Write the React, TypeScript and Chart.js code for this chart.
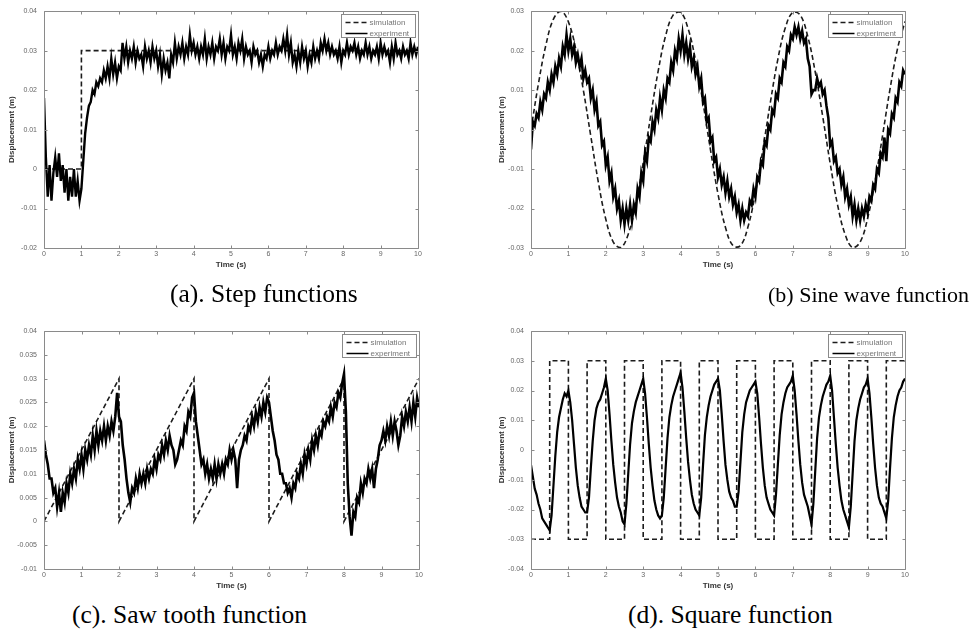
import React, { useEffect, useRef } from 'react';
import { Chart, registerables } from 'chart.js';

Chart.register(...registerables);

// ---------- data (displacement values in mm; axis labels shown in m) ----------
const EXP_DT = 0.05; // sampling step (s) of the experiment series

const timeTickLabels = ['0', '1', '2', '3', '4', '5', '6', '7', '8', '9', '10'];

const yLabelsA = ['-0.02', '-0.01', '0', '0.01', '0.02', '0.03', '0.04'];
const yLabelsB = ['-0.03', '-0.02', '-0.01', '0', '0.01', '0.02', '0.03'];
const yLabelsC = ['-0.01', '-0.005', '0', '0.005', '0.01', '0.015', '0.02', '0.025', '0.03', '0.035', '0.04'];
const yLabelsD = ['-0.04', '-0.03', '-0.02', '-0.01', '0', '0.01', '0.02', '0.03', '0.04'];

// (a) step
const simStepT = [0, 1, 1, 10];
const simStepY = [0, 0, 30, 30];
const expStep = [
  18, 3, -7, 1, -8, -1, 3, -2, 4, -3, 1, -6, 0, -8, -2, -7, 0, -7, -3, -8,
  -5, 2, 9, 13, 16, 17, 20, 19, 22, 21, 23, 22, 25, 23, 26, 23, 28, 24, 27, 23,
  26, 25, 32, 28, 31, 27, 30, 28, 31, 27, 30, 28, 29, 26, 31, 28, 30, 27, 31, 28,
  30, 26, 29, 24, 28, 25, 27, 23, 29, 27, 32, 28, 31, 29, 32, 28, 31, 29, 34, 30,
  32, 29, 31, 28, 31, 29, 33, 28, 31, 29, 32, 28, 31, 30, 33, 29, 32, 28, 31, 30,
  34, 29, 31, 28, 32, 30, 33, 28, 31, 29, 30, 27, 31, 29, 30, 27, 29, 26, 29, 28,
  31, 28, 30, 29, 32, 29, 31, 30, 33, 30, 34, 29, 32, 27, 29, 26, 30, 27, 31, 28,
  30, 26, 29, 27, 31, 28, 30, 28, 32, 30, 33, 30, 32, 29, 31, 29, 30, 28, 31, 27,
  30, 29, 32, 29, 31, 30, 32, 29, 31, 28, 30, 29, 32, 29, 31, 28, 30, 29, 31, 28,
  32, 29, 31, 29, 30, 27, 31, 28, 32, 29, 30, 28, 31, 29, 30, 28, 32, 29, 31, 29,
  31,
];

// (b) sine
const simSineDT = 0.2;
const simSineY = [
  0, 11.7, 21.5, 28.0, 30.0, 27.3, 20.3, 10.0, -1.7, -13.3, -22.7,
  -28.5, -29.9, -26.5, -18.9, -8.4, 3.5, 14.8, 23.8, 29.0, 29.7,
  25.6, 17.5, 6.7, -5.2, -16.3, -24.8, -29.4, -29.4, -24.7, -16.1,
  -5.0, 6.9, 17.8, 25.8, 29.7, 29.0, 23.6, 14.6, 3.3, -8.6,
  -19.2, -26.6, -29.9, -28.5, -22.5, -13.1, -1.5, 10.3, 20.5, 27.4,
];
const expSine = [
  -5, 2, 1, 4, 3, 7, 5, 9, 8, 12, 10, 14, 12, 16, 14, 18, 16, 21, 19, 24,
  20, 23, 19, 21, 17, 19, 16, 18, 13, 15, 12, 13, 8, 10, 5, 7, 1, 2, -4, -3,
  -9, -7, -13, -11, -17, -15, -20, -18, -23, -20, -24, -20, -23, -19, -23, -19, -21, -15, -17, -11,
  -13, -6, -8, -2, -3, 2, 0, 5, 3, 8, 5, 10, 8, 13, 12, 17, 15, 20, 18, 23,
  20, 24, 19, 22, 18, 21, 16, 18, 14, 16, 11, 13, 7, 8, 2, 3, -3, -2, -8, -7,
  -12, -10, -14, -12, -16, -13, -17, -15, -19, -17, -21, -19, -23, -20, -23, -21, -22, -18, -19, -15,
  -17, -12, -13, -8, -9, -3, -4, 1, 0, 5, 4, 9, 8, 13, 12, 17, 16, 21, 20, 24,
  23, 26, 24, 26, 23, 25, 22, 23, 18, 16, 9, 10, 10, 13, 11, 12, 9, 10, 6, 3,
  -4, -3, -8, -7, -11, -10, -14, -12, -17, -15, -19, -17, -22, -19, -23, -20, -23, -20, -22, -19,
  -21, -17, -18, -14, -15, -10, -11, -6, -7, -2, -8, 0, -1, 4, 3, 8, 7, 12, 11, 15,
  14,
];

// (c) saw tooth
const simSawT = [0, 2, 2, 4, 4, 6, 6, 8, 8, 10];
const simSawY = [0, 30, 0, 30, 0, 30, 0, 30, 0, 30];
const expSaw = [
  17, 14, 12, 9, 9, 6, 7, 3, 6, 2, 6, 4, 8, 6, 10, 8, 11, 9, 13, 11,
  14, 11, 15, 13, 16, 14, 18, 15, 19, 16, 19, 17, 20, 17, 20, 18, 21, 19, 22, 27,
  22, 21, 16, 13, 9, 6, 4, 7, 6, 9, 7, 10, 8, 10, 8, 11, 9, 11, 10, 13,
  11, 14, 13, 16, 14, 17, 15, 18, 16, 15, 12, 13, 15, 17, 16, 20, 19, 23, 22, 26,
  27, 21, 18, 15, 12, 13, 10, 12, 9, 11, 9, 12, 9, 12, 10, 12, 10, 13, 12, 15,
  13, 15, 13, 7, 13, 15, 16, 18, 17, 20, 19, 22, 20, 23, 21, 24, 22, 25, 23, 26,
  25, 22, 19, 17, 14, 13, 10, 10, 8, 8, 6, 7, 5, 8, 7, 10, 9, 12, 10, 14,
  12, 15, 13, 17, 15, 18, 16, 19, 18, 21, 20, 22, 21, 24, 22, 25, 24, 27, 26, 29,
  31, 23, 8, 1, -3, 2, 1, 5, 4, 8, 6, 9, 8, 11, 9, 11, 7, 11, 13, 16,
  17, 19, 17, 20, 18, 21, 18, 21, 19, 16, 18, 22, 20, 23, 21, 24, 21, 25, 22, 26,
  24,
];

// (d) square
const simSqT = [
  0, 0.5, 0.5, 1, 1, 1.5, 1.5, 2, 2, 2.5, 2.5, 3, 3, 3.5, 3.5, 4, 4, 4.5, 4.5, 5,
  5, 5.5, 5.5, 6, 6, 6.5, 6.5, 7, 7, 7.5, 7.5, 8, 8, 8.5, 8.5, 9, 9, 9.5, 9.5, 10,
];
const simSqY = [
  -30, -30, 30, 30, -30, -30, 30, 30, -30, -30, 30, 30, -30, -30, 30, 30, -30, -30, 30, 30,
  -30, -30, 30, 30, -30, -30, 30, 30, -30, -30, 30, 30, -30, -30, 30, 30, -30, -30, 30, 30,
];
const expSq = [
  -5, -9, -13, -15, -18, -20, -23, -24, -25, -26, -27, -22, -12, -2, 6, 11, 14, 17, 19, 18,
  20, 16, 10, 2, -6, -12, -16, -19, -20, -21, -21, -16, -6, 3, 10, 14, 16, 17, 19, 21,
  24, 20, 12, 3, -5, -11, -16, -19, -21, -24, -25, -18, -8, 2, 9, 13, 16, 18, 20, 22,
  24, 19, 11, 2, -6, -12, -17, -20, -22, -23, -22, -16, -6, 4, 11, 15, 18, 20, 22, 24,
  26, 21, 13, 4, -4, -10, -15, -18, -20, -21, -22, -16, -5, 5, 11, 15, 18, 20, 22, 23,
  24, 20, 12, 3, -5, -10, -14, -16, -17, -19, -19, -14, -4, 6, 12, 16, 18, 20, 21, 22,
  23, 19, 11, 2, -6, -12, -16, -18, -20, -21, -22, -15, -5, 5, 12, 16, 19, 21, 22, 23,
  25, 20, 12, 3, -5, -11, -15, -17, -19, -22, -25, -18, -7, 4, 11, 15, 18, 20, 22, 23,
  25, 20, 11, 2, -6, -12, -17, -20, -22, -24, -26, -19, -8, 3, 10, 14, 17, 19, 21, 22,
  24, 19, 11, 2, -6, -12, -16, -18, -19, -21, -23, -17, -6, 4, 11, 15, 18, 20, 21, 23,
  24,
];

// ---------- styling ----------
const SANS = '"Liberation Sans", Arial, sans-serif';
const SERIF = '"Liberation Serif", "Times New Roman", serif';
const FRAME = '#8a8a8a';
const TICK = 3;

const pairs = (ts: number[], ys: number[]) => ys.map((y, i) => ({ x: ts[i], y }));
const sampled = (ys: number[], dt: number) => ys.map((y, i) => ({ x: +(i * dt).toFixed(3), y }));

const legendPlugin = {
  id: 'insetLegend',
  afterDatasetsDraw(chart: any) {
    const { ctx, chartArea: a } = chart;
    const w = 74;
    const h = 23;
    const x0 = Math.round(a.right - 3 - w) + 0.5;
    const y0 = Math.round(a.top + 3) + 0.5;
    ctx.save();
    ctx.fillStyle = '#ffffff';
    ctx.fillRect(x0, y0, w, h);
    ctx.strokeStyle = FRAME;
    ctx.lineWidth = 1;
    ctx.setLineDash([]);
    ctx.strokeRect(x0, y0, w, h);
    chart.data.datasets.forEach((ds: any, i: number) => {
      const y = Math.round(y0 + 7 + i * 11) + 0.5;
      ctx.strokeStyle = ds.borderColor;
      ctx.lineWidth = 1.5;
      ctx.setLineDash(ds.borderDash || []);
      ctx.beginPath();
      ctx.moveTo(x0 + 4, y);
      ctx.lineTo(x0 + 26, y);
      ctx.stroke();
      ctx.setLineDash([]);
      ctx.fillStyle = '#777';
      ctx.font = `8px ${SANS}`;
      ctx.textBaseline = 'middle';
      ctx.textAlign = 'left';
      ctx.fillText(ds.label, x0 + 28, y);
    });
    ctx.restore();
  },
};

const framePlugin = {
  id: 'matlabFrame',
  afterDraw(chart: any) {
    const { ctx, chartArea: a, scales } = chart;
    const xs = scales.x;
    const ys = scales.y;
    const L = Math.round(a.left) + 0.5;
    const R = Math.round(a.right) + 0.5;
    const T = Math.round(a.top) + 0.5;
    const B = Math.round(a.bottom) + 0.5;
    ctx.save();
    ctx.strokeStyle = FRAME;
    ctx.lineWidth = 1;
    ctx.setLineDash([]);
    ctx.beginPath();
    ctx.rect(L, T, R - L, B - T);
    xs.ticks.forEach((t: any) => {
      const px = Math.round(xs.getPixelForValue(t.value)) + 0.5;
      ctx.moveTo(px, B);
      ctx.lineTo(px, B - TICK);
      ctx.moveTo(px, T);
      ctx.lineTo(px, T + TICK);
    });
    ys.ticks.forEach((t: any) => {
      const py = Math.round(ys.getPixelForValue(t.value)) + 0.5;
      ctx.moveTo(L, py);
      ctx.lineTo(L + TICK, py);
      ctx.moveTo(R, py);
      ctx.lineTo(R - TICK, py);
    });
    ctx.stroke();
    ctx.restore();
  },
};

type PanelProps = {
  left: number;
  top: number;
  width: number;
  height: number;
  padTop: number;
  padRight: number;
  yAxisW: number;
  xAxisH: number;
  yMin: number;
  yMax: number;
  yStep: number;
  yLabels: string[];
  sim: { x: number; y: number }[];
  simTension: number;
  exp: { x: number; y: number }[];
  expWidth: number;
};

function Panel(p: PanelProps) {
  const ref = useRef<HTMLCanvasElement | null>(null);
  useEffect(() => {
    if (!ref.current) return;
    const chart = new Chart(ref.current, {
      type: 'line',
      data: {
        datasets: [
          {
            label: 'simulation',
            data: p.sim,
            borderColor: '#1c1c1c',
            borderWidth: 1.6,
            borderDash: [5, 3],
            pointRadius: 0,
            tension: p.simTension,
            fill: false,
            order: 1,
          },
          {
            label: 'experiment',
            data: p.exp,
            borderColor: '#000000',
            borderWidth: p.expWidth,
            borderJoinStyle: 'miter',
            pointRadius: 0,
            tension: 0,
            fill: false,
            order: 0,
          },
        ],
      },
      options: {
        animation: false,
        responsive: false,
        devicePixelRatio: 1,
        events: [],
        layout: { padding: { left: 0, top: p.padTop, right: p.padRight, bottom: 0 } },
        plugins: { legend: { display: false }, tooltip: { enabled: false } },
        scales: {
          x: {
            type: 'linear',
            min: 0,
            max: 10,
            grid: { display: false, drawTicks: false },
            border: { display: false },
            ticks: {
              stepSize: 1,
              autoSkip: false,
              maxRotation: 0,
              padding: 2,
              color: '#666',
              font: { size: 7, family: SANS },
              callback: (_v: any, i: number) => timeTickLabels[i],
            },
            title: {
              display: true,
              text: 'Time (s)',
              color: '#333',
              font: { size: 8, weight: 'bold', family: SANS },
              padding: { top: 0, bottom: 5 },
            },
            afterFit: (s: any) => {
              s.height = p.xAxisH;
            },
          },
          y: {
            type: 'linear',
            min: p.yMin,
            max: p.yMax,
            grid: { display: false, drawTicks: false },
            border: { display: false },
            ticks: {
              stepSize: p.yStep,
              autoSkip: false,
              padding: 7,
              color: '#666',
              font: { size: 7, family: SANS },
              callback: (_v: any, i: number) => p.yLabels[i],
            },
            title: {
              display: true,
              text: 'Displacement (m)',
              color: '#333',
              font: { size: 8, weight: 'bold', family: SANS },
              padding: { top: 7, bottom: 0 },
            },
            afterFit: (s: any) => {
              s.width = p.yAxisW;
            },
          },
        },
      } as any,
      plugins: [legendPlugin, framePlugin],
    });
    return () => chart.destroy();
  }, []);
  return (
    <div style={{ position: 'absolute', left: p.left, top: p.top, width: p.width, height: p.height }}>
      <canvas ref={ref} width={p.width} height={p.height} style={{ display: 'block', width: p.width, height: p.height }} />
    </div>
  );
}

const captionStyle = (left: number, top: number, size: number): React.CSSProperties => ({
  position: 'absolute',
  left,
  top,
  fontFamily: SERIF,
  fontSize: size,
  lineHeight: 1,
  whiteSpace: 'nowrap',
  color: '#000',
});

export default function App() {
  return (
    <div style={{ position: 'absolute', left: 0, top: 0, width: 974, height: 632, background: '#fff', overflow: 'hidden' }}>
      <Panel
        left={0} top={0} width={440} height={275} padTop={9} padRight={22} yAxisW={44} xAxisH={27}
        yMin={-20} yMax={40} yStep={10} yLabels={yLabelsA}
        sim={pairs(simStepT, simStepY)} simTension={0} exp={sampled(expStep, EXP_DT)} expWidth={2.4}
      />
      <Panel
        left={490} top={0} width={440} height={275} padTop={9} padRight={25} yAxisW={41} xAxisH={27}
        yMin={-30} yMax={30} yStep={10} yLabels={yLabelsB}
        sim={sampled(simSineY, simSineDT)} simTension={0.4} exp={sampled(expSine, EXP_DT)} expWidth={2.6}
      />
      <Panel
        left={0} top={300} width={440} height={296} padTop={31} padRight={21} yAxisW={44} xAxisH={27}
        yMin={-10} yMax={40} yStep={5} yLabels={yLabelsC}
        sim={pairs(simSawT, simSawY)} simTension={0} exp={sampled(expSaw, EXP_DT)} expWidth={2.6}
      />
      <Panel
        left={490} top={300} width={440} height={296} padTop={31} padRight={25} yAxisW={41} xAxisH={27}
        yMin={-40} yMax={40} yStep={10} yLabels={yLabelsD}
        sim={pairs(simSqT, simSqY)} simTension={0} exp={sampled(expSq, EXP_DT)} expWidth={2.2}
      />
      <div style={captionStyle(170, 281, 25.5)}>(a). Step functions</div>
      <div style={captionStyle(768, 284, 22)}>(b) Sine wave function</div>
      <div style={captionStyle(72, 602, 25.5)}>(c). Saw tooth function</div>
      <div style={captionStyle(628, 602, 25.5)}>(d). Square function</div>
    </div>
  );
}
